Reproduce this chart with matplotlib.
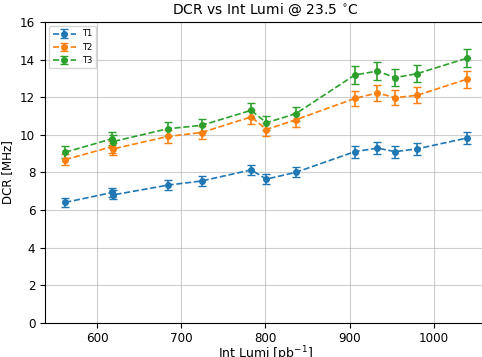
import numpy as np
import matplotlib
matplotlib.use("Agg")
import matplotlib.pyplot as plt

# integrated luminosity [pb^-1]
lumi = [562, 618, 619, 684, 724, 783, 801, 836, 906, 933, 954, 980, 1039]

dcr_t1 = [6.40, 6.93, 6.80, 7.32, 7.54, 8.13, 7.64, 8.00, 9.10, 9.29, 9.10, 9.25, 9.82]
dcr_t2 = [8.68, 9.37, 9.25, 9.91, 10.12, 10.95, 10.28, 10.80, 11.93, 12.23, 11.97, 12.10, 12.95]
dcr_t3 = [9.07, 9.79, 9.64, 10.32, 10.50, 11.30, 10.64, 11.12, 13.18, 13.39, 13.04, 13.25, 14.07]

err_t1 = [0.22, 0.24, 0.24, 0.25, 0.26, 0.28, 0.26, 0.27, 0.31, 0.32, 0.31, 0.31, 0.33]
err_t2 = [0.30, 0.32, 0.32, 0.34, 0.35, 0.38, 0.35, 0.37, 0.41, 0.42, 0.41, 0.42, 0.45]
err_t3 = [0.31, 0.34, 0.33, 0.36, 0.36, 0.39, 0.37, 0.38, 0.46, 0.46, 0.45, 0.46, 0.49]

series = [("T1", dcr_t1, err_t1), ("T2", dcr_t2, err_t2), ("T3", dcr_t3, err_t3)]

plt.rcParams["font.size"] = 8.6

fig = plt.figure(figsize=(4.82, 3.57), dpi=100)
ax = fig.add_axes([45 / 482, 1 - 322.7 / 357, 441 / 482, (322.7 - 22) / 357])

for name, vals, errs in series:
    ax.errorbar(lumi, vals, yerr=errs, fmt="o--", markersize=4, capsize=3,
                linewidth=1.2, label=name)

ax.set_xlim(538, 1062)
ax.set_ylim(0, 16)
ax.set_yticks(np.arange(0, 17, 2))
ax.set_xticks([600, 700, 800, 900, 1000])
ax.grid(True, color="#b0b0b0", alpha=0.6)
ax.set_xlabel("Int Lumi [pb$^{-1}$]", fontsize=9, labelpad=-1)
ax.set_ylabel("DCR [MHz]")
ax.set_title("DCR vs Int Lumi @ 23.5 $^{\\circ}$C", fontsize=10)
ax.legend(loc="upper left", fontsize=6, handlelength=2.8)

fig.savefig("out.png", dpi=100)
